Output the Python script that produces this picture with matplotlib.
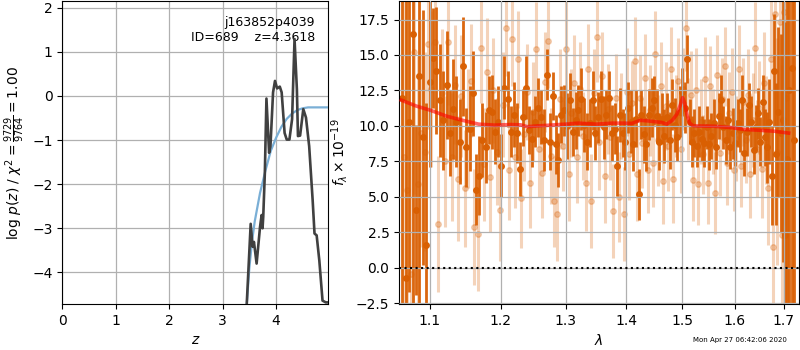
import numpy as np
import matplotlib
matplotlib.use("Agg")
import matplotlib.pyplot as plt
from matplotlib.ticker import FixedLocator, FormatStrFormatter, NullLocator

# ---------------- Left panel data: log p(z) ----------------
z_pz = [3.45, 3.525, 3.56, 3.586, 3.636, 3.70, 3.73, 3.747, 3.76, 3.79, 3.82,
        3.87, 3.895, 3.944, 3.98, 4.02, 4.07, 4.105, 4.16, 4.20, 4.25, 4.30,
        4.346, 4.39, 4.41, 4.45, 4.51, 4.56, 4.62, 4.685, 4.72, 4.76, 4.81,
        4.87, 4.93, 4.98]
logpz = [-4.75, -2.90, -3.42, -3.31, -3.80, -2.97, -2.70, -3.00, -2.74, -1.75,
         -0.06, -1.29, -1.14, 0.08, 0.34, 0.17, 0.21, 0.08, -0.84, -0.99,
         -0.99, -0.53, 1.29, 0.15, -0.91, -0.90, -0.30, -0.49, -1.14, -2.36,
         -3.12, -3.16, -3.73, -4.64, -4.68, -4.68]
z_prior = [3.45, 3.50, 3.55, 3.60, 3.70, 3.80, 3.90, 4.00, 4.10, 4.20, 4.30,
           4.40, 4.50, 4.60, 4.98]
logprior = [-4.75, -3.90, -3.30, -2.85, -2.20, -1.70, -1.25, -0.95, -0.70,
            -0.52, -0.40, -0.32, -0.28, -0.26, -0.26]

# ---------------- Right panel data: spectrum ----------------
wave_dark = np.round(1.063 + 0.0046 * np.arange(144), 4)
flux_dark = [12.0, -0.7, 10.3, 16.5, 4.1, 13.5, 9.2, 1.6, 13.1, 14.8,
             13.9, 11.8, 10.4, 12.9, 9.5, 11.2, 10.3, 8.9, 14.2, 8.5,
             9.8, 12.3, 5.5, 6.5, 9.0, 8.5, 11.1, 11.0, 9.6, 10.3,
             7.2, 12.7, 11.9, 9.6, 10.8, 9.5, 7.0, 10.6, 12.7, 9.7,
             9.1, 10.3, 11.3, 10.6, 9.0, 13.6, 8.9, 12.1, 8.7, 7.6,
             10.8, 11.1, 10.0, 11.8, 9.6, 10.4, 11.1, 11.9, 10.1, 8.9,
             10.2, 11.8, 9.5, 10.6, 11.9, 9.9, 10.8, 12.0, 9.5, 9.8,
             7.2, 10.8, 9.5, 8.9, 11.3, 10.3, 8.7, 10.5, 5.2, 10.8,
             9.4, 8.7, 10.8, 11.3, 11.8, 10.7, 8.9, 10.5, 9.3, 10.6,
             9.0, 11.5, 10.1, 9.2, 11.0, 12.4, 11.3, 14.7, 10.3, 8.9,
             9.5, 8.6, 9.6, 9.1, 8.8, 9.9, 8.7, 9.3, 10.2, 8.5,
             10.7, 11.8, 9.9, 9.0, 10.4, 8.5, 9.5, 8.8, 10.2, 9.7,
             11.8, 8.1, 9.6, 11.5, 10.3, 8.3, 9.9, 10.9, 8.9, 11.7,
             9.2, 8.5, 10.3, 6.5, 13.9, 8.0, 11.0, 9.5, 10.4, 2.3,
             7.7, 12.5, 14.1, 9.0]
err_dark = [30, 30, 12, 25, 6, 30, 9, 10, 6, 3.5,
            4.5, 4.0, 3.5, 3.8, 3.0, 3.5, 3.2, 3.0, 3.5, 2.8,
            3.0, 3.0, 2.5, 2.8, 2.6, 2.5, 2.4, 2.6, 2.3, 2.5,
            2.2, 2.2, 2.0, 1.8, 2.3, 2.1, 1.9, 2.0, 2.2, 1.7,
            2.0, 1.8, 2.1, 1.9, 2.2, 1.8, 2.0, 1.7, 2.1, 1.9,
            2.0, 1.8, 2.3, 1.9, 1.7, 2.0, 1.8, 2.2, 1.9, 2.0,
            1.7, 2.1, 1.9, 1.8, 2.0, 2.2, 1.7, 1.9, 2.0, 1.8,
            2.1, 1.9, 1.7, 2.0, 1.8, 2.2, 1.9, 2.0, 1.8, 1.7,
            2.0, 1.9, 1.8, 2.1, 1.7, 1.9, 2.0, 1.8, 1.9, 1.7,
            2.0, 1.8, 1.9, 1.7, 1.8, 1.7, 1.8, 1.7, 1.6, 1.8,
            1.7, 1.5, 1.8, 1.6, 1.7, 1.5, 1.8, 1.6, 1.7, 1.5,
            1.6, 1.8, 1.5, 1.7, 1.6, 1.5, 1.8, 1.6, 1.7, 1.5,
            1.8, 1.6, 1.7, 1.5, 1.8, 1.7, 1.6, 1.8, 1.7, 1.9,
            2.0, 2.5, 3.0, 3.5, 4.0, 5.0, 6.0, 7.0, 10, 15,
            20, 25, 30, 30]

wave_light = np.round(1.0653 + 0.0046 * np.arange(140), 4)
flux_light = [7.8, 5.5, -0.4, 15.2, 5.9, 9.5, 8.2, 15.8, 12.6, 15.9,
              3.1, 12.3, 7.5, 15.9, 7.8, 12.9, 6.3, 12.1, 5.6, 9.8,
              13.2, 2.9, 2.4, 15.5, 7.3, 13.8, 6.4, 12.5, 8.2, 4.1,
              11.5, 16.9, 6.9, 16.1, 7.8, 14.7, 4.9, 9.4, 12.4, 6.0,
              11.0, 15.4, 8.4, 6.7, 13.1, 16.0, 7.9, 4.7, 3.8, 11.9,
              8.6, 15.4, 6.6, 10.9, 13.0, 7.8, 12.6, 9.3, 6.0, 14.0,
              4.7, 12.3, 16.3, 8.9, 13.5, 6.5, 11.2, 9.2, 4.0, 12.0,
              5.0, 10.7, 3.8, 12.4, 8.0, 11.6, 14.6, 6.6, 12.0, 8.8,
              13.4, 6.9, 11.1, 7.4, 15.1, 9.0, 12.8, 6.1, 11.4, 8.6,
              14.0, 6.3, 10.7, 13.2, 8.4, 12.6, 16.9, 10.5, 12.2, 6.2,
              12.5, 5.9, 10.3, 8.0, 13.3, 6.0, 12.8, 9.6, 5.3, 13.6,
              8.1, 11.9, 14.2, 7.4, 10.9, 12.4, 6.9, 9.1, 14.0, 7.2,
              11.7, 9.0, 12.2, 6.6, 10.4, 15.5, 8.4, 11.3, 7.0, 13.0,
              9.7, 5.6, 14.7, 1.45, 17.9, 8.2, 17.3, 2.3, 18.0, 12.0]
err_light = [20, 15, 12, 10, 9, 8, 7, 6, 5.5, 5.0,
             4.8, 4.5, 4.6, 4.4, 4.5, 4.2, 4.4, 4.3, 4.1, 4.2,
             4.0, 4.1, 4.0, 3.9, 4.0, 3.8, 3.9, 3.7, 3.8, 3.6,
             3.7, 3.4, 3.5, 3.3, 3.6, 3.4, 3.5, 3.3, 3.4, 3.2,
             3.5, 3.3, 3.4, 3.2, 3.5, 3.3, 3.4, 3.2, 3.3, 3.5,
             3.2, 3.4, 3.3, 3.1, 3.4, 3.2, 3.3, 3.1, 3.4, 3.2,
             3.3, 3.1, 3.2, 3.4, 3.1, 3.3, 3.2, 3.0, 3.3, 3.1,
             3.2, 3.0, 3.3, 3.1, 3.2, 3.0, 3.1, 3.3, 3.0, 3.2,
             3.1, 3.0, 3.2, 3.1, 3.0, 3.2, 3.1, 3.0, 3.1, 3.2,
             3.0, 3.1, 2.9, 3.0, 3.1, 2.9, 3.0, 2.9, 3.1, 2.9,
             3.0, 2.9, 3.0, 2.8, 3.0, 2.9, 2.8, 3.0, 2.9, 2.8,
             3.0, 2.9, 2.8, 3.0, 2.9, 3.1, 2.9, 3.0, 3.1, 2.9,
             3.1, 3.0, 3.2, 3.1, 3.3, 3.2, 3.4, 3.3, 3.5, 3.6,
             3.8, 4.0, 4.5, 5.0, 6.0, 8.0, 10, 12, 15, 20]

wave_model = [1.062, 1.082, 1.10, 1.123, 1.145, 1.168, 1.191, 1.215, 1.23,
              1.24, 1.255, 1.30, 1.32, 1.35, 1.377, 1.397, 1.41, 1.425,
              1.44, 1.463, 1.472, 1.482, 1.49, 1.496, 1.501, 1.505, 1.509,
              1.514, 1.52, 1.53, 1.56, 1.59, 1.62, 1.65, 1.68, 1.71]
flux_model = [11.82, 11.40, 11.12, 10.69, 10.40, 10.13, 10.06, 10.10, 10.08,
              9.95, 10.00, 10.13, 10.20, 10.13, 10.20, 10.20, 10.18, 10.40,
              10.35, 10.25, 10.13, 10.40, 10.80, 11.40, 12.00, 11.60, 10.80,
              10.20, 10.02, 10.00, 9.98, 9.90, 9.75, 9.70, 9.63, 9.50]

xticks_right = [1.1, 1.2, 1.3, 1.4, 1.5, 1.6, 1.7]
yticks_right = [-2.5, 0.0, 2.5, 5.0, 7.5, 10.0, 12.5, 15.0, 17.5]
xticks_left = [0, 1, 2, 3, 4]
yticks_left = [-4, -3, -2, -1, 0, 1, 2]

orange = '#d95f02'

fig = plt.figure(figsize=(8, 3.5), dpi=100)
ax1 = fig.add_axes([0.078, 0.131, 0.3325, 0.866])
ax2 = fig.add_axes([0.499, 0.131, 0.4995, 0.866])

# Left panel
ax1.plot(z_prior, logprior, color='#7aafd6', lw=1.6, zorder=3)
ax1.plot(z_pz, logpz, color='#404040', lw=1.9, zorder=4)
ax1.set_xlim(0, 4.98)
ax1.set_ylim(-4.72, 2.15)
ax1.set_xticks(xticks_left)
ax1.set_yticks(yticks_left)
ax1.grid(True, color='#b0b0b0', lw=0.9)
ax1.set_xlabel(r'$z$')
ax1.set_ylabel(r'log $p(z)$ / $\chi^2=\frac{9729}{9764}=1.00$')
ax1.text(0.95, 0.95, 'j163852p4039\nID=689    z=4.3618',
         transform=ax1.transAxes, ha='right', va='top', fontsize=9,
         multialignment='right')

# Right panel
ax2.errorbar(wave_light, flux_light, yerr=err_light, fmt='o', color=orange,
             ms=4, elinewidth=2.2, alpha=0.27, zorder=1)
ax2.errorbar(wave_dark, flux_dark, yerr=err_dark, fmt='o', color=orange,
             ms=4, elinewidth=2.0, alpha=0.95, zorder=2)
ax2.plot(wave_model, flux_model, color='r', lw=2.6, alpha=0.6, zorder=3)
ax2.axhline(0, color='k', ls=':', lw=1.5, zorder=4)
ax2.set_xscale('log')
ax2.set_xlim(1.0593, 1.7315)
ax2.set_ylim(-2.55, 18.8)
ax2.xaxis.set_major_locator(FixedLocator(xticks_right))
ax2.xaxis.set_major_formatter(FormatStrFormatter('%.1f'))
ax2.xaxis.set_minor_locator(NullLocator())
ax2.set_yticks(yticks_right)
ax2.set_axisbelow(False)
ax2.grid(True, color='#b0b0b0', lw=0.9, zorder=2.5)
ax2.set_xlabel(r'$\lambda$')
ax2.set_ylabel(r'$f_\lambda\times10^{-19}$')

fig.text(0.983, 0.02, 'Mon Apr 27 06:42:06 2020', ha='right', va='bottom',
         fontsize=5)

fig.savefig('out.png', dpi=100)
